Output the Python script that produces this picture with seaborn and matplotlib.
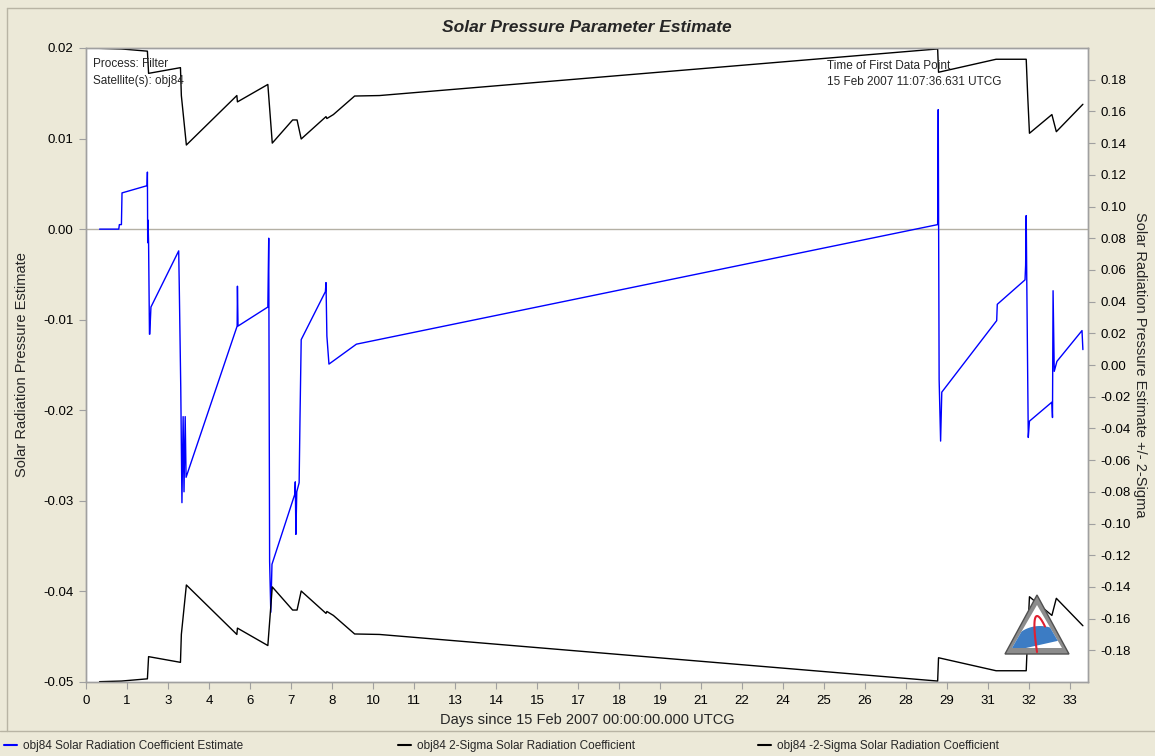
import numpy as np
import pandas as pd
import matplotlib
matplotlib.use("Agg")
import matplotlib.pyplot as plt
from matplotlib.lines import Line2D
from matplotlib.patches import Polygon
import seaborn as sns

# ---- data (days since 15 Feb 2007 00:00 UTCG) ----
est_days = [0.46, 1.11, 1.13, 1.20, 1.22, 2.07, 2.08, 2.09, 2.10, 2.12, 2.15, 2.16, 2.20,
            3.14, 3.16, 3.21, 3.25, 3.29, 3.32, 3.36, 3.39, 5.12, 5.13, 5.15, 6.16, 6.19,
            6.22, 6.26, 6.30, 7.07, 7.09, 7.11, 7.14, 7.22, 7.25, 7.29, 8.11, 8.13, 8.16,
            8.23, 9.16, 28.85, 28.87, 28.90, 28.95, 28.99, 30.85, 30.87, 31.81, 31.83,
            31.85, 31.87, 31.92, 31.96, 32.72, 32.74, 32.76, 32.80, 32.89, 33.74, 33.77]
est_vals = [0.0, 0.0, 0.0005, 0.0005, 0.0040, 0.0048, 0.0063, -0.0015, 0.0010, -0.0015,
            -0.0116, -0.0116, -0.0086, -0.0024, -0.0064, -0.0175, -0.0302, -0.0207, -0.0290,
            -0.0207, -0.0274, -0.0107, -0.0063, -0.0107, -0.0086, -0.0010, -0.0367, -0.0423,
            -0.0370, -0.0293, -0.0279, -0.0337, -0.0290, -0.0280, -0.0207, -0.0122, -0.0069,
            -0.0059, -0.0118, -0.0149, -0.0127, 0.0005, 0.0132, -0.0166, -0.0234, -0.0180,
            -0.0101, -0.0083, -0.0056, -0.0040, 0.0015, -0.0060, -0.0230, -0.0212, -0.0191,
            -0.0208, -0.0068, -0.0157, -0.0146, -0.0112, -0.0133]

sig_days = [0.46, 1.20, 2.08, 2.12, 3.20, 3.23, 3.40, 5.11, 5.13, 6.16, 6.31, 7.00, 7.15,
            7.29, 8.13, 8.16, 8.38, 9.10, 9.94, 28.85, 28.88, 30.83, 31.85, 31.90, 31.96,
            32.72, 32.87, 33.77]
sig_vals = [0.1998, 0.1994, 0.1980, 0.1840, 0.1876, 0.1700, 0.1388, 0.1700, 0.1660, 0.1770,
            0.1400, 0.1546, 0.1546, 0.1426, 0.1567, 0.1555, 0.1580, 0.1697, 0.1700, 0.1994,
            0.1847, 0.1929, 0.1929, 0.1700, 0.1462, 0.1580, 0.1472, 0.1645]

tick_step = 2000 / 1440  # axis ticks every 2000 minutes
x_ticks = [k * tick_step for k in range(25)]
x_labels = [str(int(np.floor(t + 0.5))) for t in x_ticks]
left_ticks = [0.02, 0.01, 0.0, -0.01, -0.02, -0.03, -0.04, -0.05]
right_ticks = [round(-0.18 + 0.02 * i, 2) for i in range(19)]

legend_labels = ["obj84 Solar Radiation Coefficient Estimate",
                 "obj84 2-Sigma Solar Radiation Coefficient",
                 "obj84 -2-Sigma Solar Radiation Coefficient"]

est = pd.DataFrame({"day": est_days, "value": est_vals})
sig = pd.DataFrame({"day": sig_days, "upper": sig_vals})
sig["lower"] = -sig["upper"]

# ---- style ----
sns.set_style("white")
plt.rcParams["font.family"] = ["Liberation Sans", "DejaVu Sans"]
bg = "#ECE9D8"
grey = "#A0A0A0"

W, H = 1155, 756
fig = plt.figure(figsize=(W / 100, H / 100), dpi=100, facecolor=bg)

def fx(px):
    return np.asarray(px) / W

def fy(py):
    return 1 - np.asarray(py) / H

ax = fig.add_axes([fx(86), fy(682), (1088 - 86) / W, (682 - 48) / H])
ax.set_facecolor("white")
ax2 = ax.twinx()

ax.axhline(0, color="#B4B0A4", lw=1, zorder=0)
sns.lineplot(data=est, x="day", y="value", ax=ax, color="#0000FF", lw=1,
             sort=False, estimator=None)
sns.lineplot(data=sig, x="day", y="upper", ax=ax2, color="black", lw=1,
             sort=False, estimator=None)
sns.lineplot(data=sig, x="day", y="lower", ax=ax2, color="black", lw=1,
             sort=False, estimator=None)

ax.set_xlim(0, 1002 / (41 / tick_step))
ax.set_ylim(-0.05, 0.02)
ax2.set_ylim(-0.2, 0.2)

ax.set_xticks(x_ticks)
ax.set_xticklabels(x_labels)
ax.set_yticks(left_ticks)
ax.set_yticklabels([f"{v:.2f}" for v in left_ticks])
ax2.set_yticks(right_ticks)
ax2.set_yticklabels([f"{v:.2f}" for v in right_ticks])

for a in (ax, ax2):
    a.tick_params(axis="both", direction="out", length=5, width=0.8, color=grey,
                  labelsize=9.5, labelcolor="black", pad=4)
    for s in a.spines.values():
        s.set_color(grey)
        s.set_linewidth(1)
ax.tick_params(axis="y", left=True, right=False)
ax.tick_params(axis="x", bottom=True)
ax2.tick_params(axis="y", right=True, left=False)

ax.set_xlabel("")
ax.set_ylabel("")
ax2.set_ylabel("")

# ---- texts ----
fig.text(fx(587), fy(27), "Solar Pressure Parameter Estimate", ha="center", va="center",
         fontsize=12.5, fontweight="bold", fontstyle="italic")
fig.text(fx(587), fy(720), "Days since 15 Feb 2007 00:00:00.000 UTCG", ha="center",
         va="center", fontsize=10.5)
fig.text(fx(22), fy(365), "Solar Radiation Pressure Estimate", rotation=90, ha="center",
         va="center", fontsize=10.5)
fig.text(fx(1140), fy(365), "Solar Radiation Pressure Estimate +/- 2-Sigma", rotation=270,
         ha="center", va="center", fontsize=10.5)

fig.text(fx(93), fy(64), "Process: Filter", ha="left", va="center", fontsize=8.5)
fig.text(fx(93), fy(81), "Satellite(s): obj84", ha="left", va="center", fontsize=8.5)
fig.text(fx(827), fy(66), "Time of First Data Point", ha="left", va="center", fontsize=8.5)
fig.text(fx(827), fy(82), "15 Feb 2007 11:07:36.631 UTCG", ha="left", va="center",
         fontsize=8.5)

# window frame lines
fig.add_artist(Line2D([fx(7), 1], [fy(8), fy(8)], color="#B8B4A4", lw=1))
fig.add_artist(Line2D([fx(7), fx(7)], [fy(8), fy(731)], color="#B8B4A4", lw=1))
fig.add_artist(Line2D([0, 1], [fy(731), fy(731)], color="#B8B4A4", lw=1))

# legend entries
leg_x = [4, 398, 758]
leg_c = ["#0000FF", "black", "black"]
for xp, c, lab in zip(leg_x, leg_c, legend_labels):
    fig.add_artist(Line2D([fx(xp), fx(xp + 13)], [fy(745), fy(745)], color=c, lw=1.5))
    fig.text(fx(xp + 19), fy(746), lab, ha="left", va="center", fontsize=8.5)

# logo triangle
outer = Polygon(list(zip(fx([1037, 1005, 1069]), fy([595, 654, 654]))), closed=True,
                facecolor="#8C8C8C", edgecolor="#505050", lw=1)
inner = Polygon(list(zip(fx([1037, 1012, 1062]), fy([605, 648, 648]))), closed=True,
                facecolor="white", edgecolor="none")
fig.add_artist(outer)
fig.add_artist(inner)
dome_x = np.linspace(1008, 1066, 40)
dome_y = 652 - 26 * np.sqrt(np.clip(1 - ((dome_x - 1040) / 30) ** 2, 0, 1))
dome = Polygon(list(zip(fx(dome_x), fy(dome_y))), closed=True,
               facecolor="#3C7CC4", edgecolor="none")
fig.add_artist(dome)
dome.set_clip_path(inner)
t = np.linspace(0, 1, 30)
arc_x = 1037 - 4 * np.sin(np.pi * t) + 8 * t ** 2
arc_y = 652 - 36 * np.sin(np.pi * t * 0.75)
fig.add_artist(Line2D(fx(arc_x), fy(arc_y), color="#E02030", lw=1.5))

fig.savefig("out.png", dpi=100, facecolor=bg)
